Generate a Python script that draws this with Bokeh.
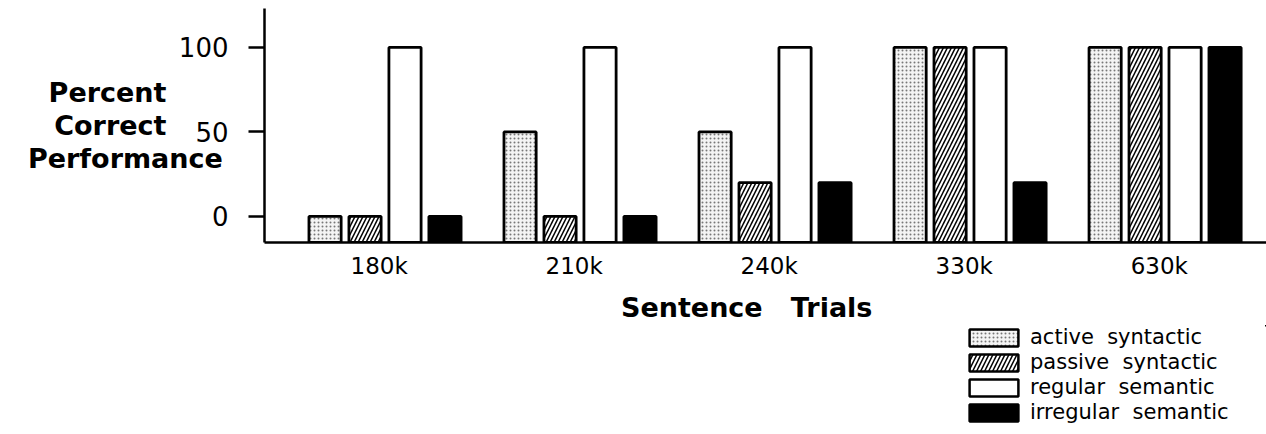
import numpy as np
from bokeh.plotting import figure
from bokeh.models import Range1d, FixedTicker, Legend, LegendItem, Spacer
from bokeh.layouts import column, row
from bokeh.embed import file_html
from bokeh.resources import INLINE

NB = "\u00a0"

# ---- data ----
categories = ["180k", "210k", "240k", "330k", "630k"]
active_syntactic = [0, 50, 50, 100, 100]
passive_syntactic = [0, 0, 20, 100, 100]
regular_semantic = [100, 100, 100, 100, 100]
irregular_semantic = [0, 0, 20, 20, 100]
series_names = ["active" + NB * 2 + "syntactic", "passive" + NB * 2 + "syntactic",
                "regular" + NB * 2 + "semantic", "irregular" + NB * 2 + "semantic"]
y_ticks = [0, 50, 100]
y_title = "Percent" + NB * 6 + "\nCorrect" + NB * 6 + "\nPerformance"
x_title = "Sentence" + NB * 3 + "Trials" + NB * 4

# ---- styling ----
BASE = -15.4
STEP = 0.205
BAR_W = 0.165
FONT = "DejaVu Sans"

p = figure(frame_width=1002, frame_height=234, output_backend="svg", toolbar_location=None,
           x_range=Range1d(-0.618, 4.52), y_range=Range1d(BASE, 123),
           min_border_left=264, min_border_right=0, min_border_top=8, min_border_bottom=0)
p.grid.visible = False
p.outline_line_color = None
p.background_fill_color = "white"

idx = np.arange(len(categories))
styles = [
    dict(fill_color="#f4f4f4", hatch_pattern="dot", hatch_scale=4, hatch_weight=1.0, hatch_color="#777777"),
    dict(fill_color="white", hatch_pattern="right_diagonal_line", hatch_scale=8, hatch_weight=1.5, hatch_color="black"),
    dict(fill_color="white"),
    dict(fill_color="black"),
]
series = [active_syntactic, passive_syntactic, regular_semantic, irregular_semantic]
for j, (vals, st) in enumerate(zip(series, styles)):
    xs = idx + (j - 1.5) * STEP
    p.vbar(x=xs, top=vals, bottom=BASE, width=BAR_W, line_color="black", line_width=2.8, **st)

# x axis
SHIFT = -0.03
xa = p.xaxis[0]
xa.ticker = FixedTicker(ticks=list(idx + SHIFT))
xa.major_label_overrides = {float(i + SHIFT): c for i, c in zip(idx, categories)}
xa.axis_line_width = 2.5
xa.axis_line_color = "black"
xa.major_tick_line_color = None
xa.minor_tick_line_color = None
xa.major_label_standoff = 4
xa.major_label_text_font = FONT
xa.major_label_text_font_size = "23px"
xa.major_label_text_color = "black"
xa.axis_label = x_title
xa.axis_label_text_font = FONT
xa.axis_label_text_font_style = "bold"
xa.axis_label_text_font_size = "27px"
xa.axis_label_text_color = "black"
xa.axis_label_standoff = 10

# y axis
ya = p.yaxis[0]
ya.ticker = FixedTicker(ticks=y_ticks)
ya.axis_line_width = 2.5
ya.axis_line_color = "black"
ya.major_tick_line_width = 2.5
ya.major_tick_line_color = "black"
ya.major_tick_out = 16
ya.major_tick_in = 0
ya.minor_tick_line_color = None
ya.major_label_standoff = 20
ya.major_label_text_font = FONT
ya.major_label_text_font_size = "26px"
ya.major_label_text_color = "black"
ya.axis_label_orientation = "horizontal"
ya.axis_label = y_title
ya.axis_label_text_font = FONT
ya.axis_label_text_font_style = "bold"
ya.axis_label_text_font_size = "27px"
ya.axis_label_text_line_height = 1.05
ya.axis_label_text_color = "black"
ya.axis_label_standoff = -47

# ---- legend (separate small canvas below the x-axis title) ----
lf = figure(width=303, height=104, output_backend="svg", toolbar_location=None,
            x_range=Range1d(-101, -100), y_range=Range1d(-101, -100), min_border=0)
lf.axis.visible = False
lf.grid.visible = False
lf.outline_line_color = None
items = []
for vals, st, name in zip(series, styles, series_names):
    r = lf.vbar(x=idx, top=vals, width=BAR_W, line_color="black", line_width=2.5, **st)
    items.append(LegendItem(label=name, renderers=[r]))
legend = Legend(items=items, location="top_left", orientation="vertical",
                glyph_width=61, glyph_height=21, label_height=24, spacing=1,
                label_standoff=6, padding=0, margin=0,
                label_text_font=FONT, label_text_font_size="21px", label_text_color="black",
                border_line_color=None, background_fill_alpha=0)
lf.add_layout(legend)

layout = column(p, row(Spacer(width=963, height=104), lf))
open("out.html", "w").write(file_html(layout, INLINE))
